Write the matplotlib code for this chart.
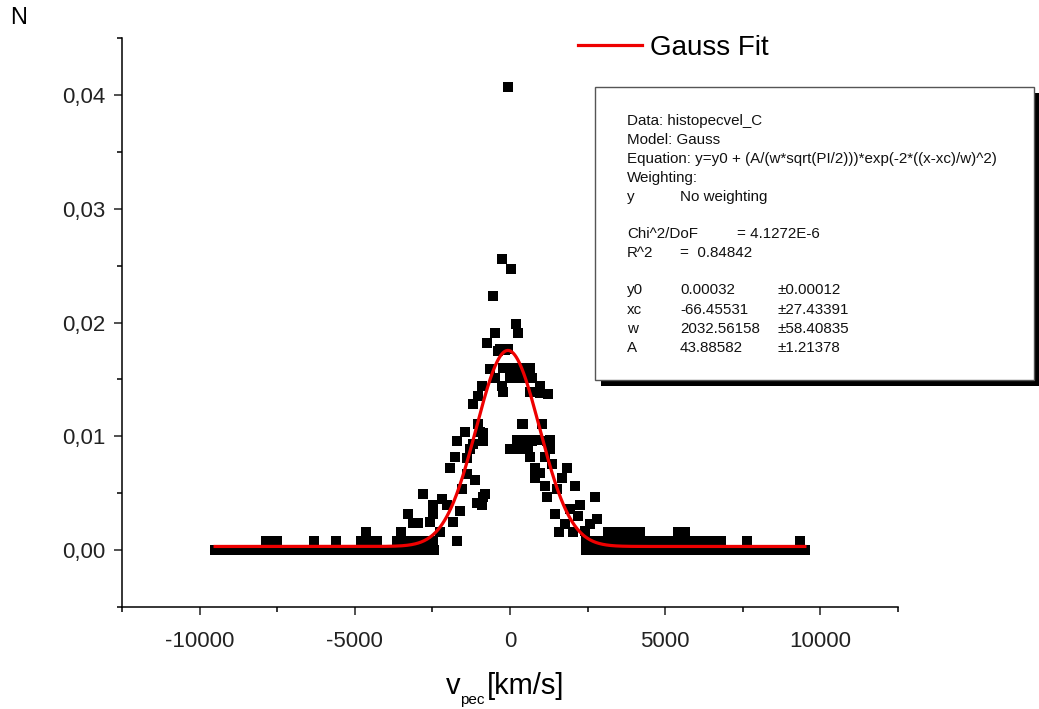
import numpy as np
import matplotlib
matplotlib.use('Agg')
import matplotlib.pyplot as plt
from matplotlib.patches import Rectangle
from matplotlib.ticker import MultipleLocator, FuncFormatter

plt.rcParams['font.family'] = ['Liberation Sans', 'DejaVu Sans']

# Histogram of peculiar velocities (km/s) and normalized counts N
# empty bins (N = 0)
v_zero = [-9500, -9350, -9200, -9050, -8900, -8750, -8600, -8450, -8300, -8150,
          -8000, -7850, -7700, -7550, -7400, -7250, -7100, -6950, -6800, -6650,
          -6500, -6350, -6200, -6050, -5900, -5750, -5600, -5450, -5300, -5150,
          -5000, -4850, -4700, -4550, -4400, -4250, -4100, -3950, -3800, -3650,
          -3500, -3350, -3200, -3050, -2900, -2750, -2600, -2450,
          2450, 2600, 2750, 2900, 3050, 3200, 3350, 3500, 3650, 3800,
          3950, 4100, 4250, 4400, 4550, 4700, 4850, 5000, 5150, 5300,
          5450, 5600, 5750, 5900, 6050, 6200, 6350, 6500, 6650, 6800,
          6950, 7100, 7250, 7400, 7550, 7700, 7850, 8000, 8150, 8300,
          8450, 8600, 8750, 8900, 9050, 9200, 9350, 9500]

# bins holding a single object
n_single = 0.0008
v_single = [-7850, -7750, -7500, -6300, -5600, -4800, -4600, -4500, -4400, -4300,
            -3650, -3400, -3200, -3000, -2900, -2750, -2480, -1710,
            2450, 2600, 2750, 2900, 3050, 3200, 3350, 3500, 3650, 3800,
            3950, 4100, 4250, 4400, 4550, 4700, 4850, 5000, 5150, 5300,
            5450, 5600, 5750, 5900, 6050, 6200, 6350, 6500, 6650, 6800,
            7650, 9350]

# bins holding two objects
n_double = 0.0016
v_double = [-4650, -3500, -2260, 1580, 2020, 3150, 3300, 3450, 3600, 3750,
            3900, 4050, 4200, 5400, 5550, 5650]

# central part of the distribution
v_core = [-65, -258, 32, -548, 194, 258, -484, -742, -323, -161,
          -65, -387, -645, -226, -903, -258, -484, -1032, -1194, -1032,
          -968, -1452, -1710, -871, -1290, 645, 97, 161, 323, 968,
          1226, 0, 419, 484, 290, 700, 645, 968, -226, 419,
          387, 1032, 1290, 323, 387, 710, 226, 548, 871, 1194,
          0, 97, 581, 323, 1290, -871, -871, -903, 807, 807,
          968, 1130, 1355, 645, 1130, 1839, 1678, 1194, 1516, 2097,
          2742, 2258, 1935, 2194, 1774, 2420, 1452, 2581, 2807,
          -3130, -2480, -2580, -1840, -1610, -2030, -2480, -806, -1065, -1387,
          -1936, -1387, -1194, -3290, -2970, -2810, -1774, -2200, -1550, -1130]
n_core = [0.0407, 0.0256, 0.0247, 0.0223, 0.0199, 0.0191, 0.0191, 0.0182, 0.0177, 0.0176,
          0.0177, 0.0175, 0.0159, 0.0160, 0.0144, 0.0144, 0.0151, 0.0135, 0.0128, 0.0111,
          0.0104, 0.0104, 0.0096, 0.0096, 0.0089, 0.0160, 0.0160, 0.0160, 0.0160, 0.0144,
          0.0137, 0.0151, 0.0151, 0.0151, 0.0151, 0.0151, 0.0139, 0.0138, 0.0139, 0.0111,
          0.0111, 0.0111, 0.0097, 0.0096, 0.0096, 0.0096, 0.0097, 0.0097, 0.0097, 0.0096,
          0.0089, 0.0089, 0.0089, 0.0089, 0.0089, 0.0103, 0.0047, 0.0040, 0.0072, 0.0063,
          0.0068, 0.0056, 0.0076, 0.0082, 0.0082, 0.0072, 0.0063, 0.0047, 0.0054, 0.0056,
          0.0047, 0.0040, 0.0036, 0.0030, 0.0023, 0.0017, 0.0032, 0.0023, 0.0027,
          0.0024, 0.0032, 0.0025, 0.0025, 0.0034, 0.0040, 0.0040, 0.0049, 0.0041, 0.0067,
          0.0072, 0.0081, 0.0093, 0.0032, 0.0024, 0.0049, 0.0082, 0.0045, 0.0054, 0.0062]

# Gauss fit parameters (from the fit report)
y0, xc, w, A = 0.00032, -66.45531, 2032.56158, 43.88582
fit_range = (-9500, 9500)

# Set up figure
####################################################################################################################
W, H = 1039, 709
fig = plt.figure(figsize=(W / 100, H / 100), dpi=100)
ax = fig.add_axes([122 / W, 1 - 607 / H, (898 - 122) / W, (607 - 38) / H])

mk = dict(linestyle='none', marker='s', markersize=6.7, color='black', markeredgewidth=0)
ax.plot(v_zero, [0.0] * len(v_zero), **mk)
ax.plot(v_single, [n_single] * len(v_single), **mk)
ax.plot(v_double, [n_double] * len(v_double), **mk)
ax.plot(v_core, n_core, **mk)

xf = np.linspace(fit_range[0], fit_range[1], 800)
yf = y0 + (A / (w * np.sqrt(np.pi / 2))) * np.exp(-2 * ((xf - xc) / w) ** 2)
ax.plot(xf, yf, color='#ee0000', lw=2.3, label='Gauss Fit', zorder=5)

# Axes styling
ax.set_xlim(-12500, 12500)
ax.set_ylim(-0.005, 0.045)
ax.xaxis.set_major_locator(MultipleLocator(5000))
ax.xaxis.set_minor_locator(MultipleLocator(2500))
ax.yaxis.set_major_locator(MultipleLocator(0.01))
ax.yaxis.set_minor_locator(MultipleLocator(0.005))
ax.yaxis.set_major_formatter(FuncFormatter(lambda v, p: f'{v:.2f}'.replace('.', ',')))
ax.xaxis.set_major_formatter(FuncFormatter(lambda v, p: f'{v:.0f}'))
for s in ['top', 'right']:
    ax.spines[s].set_visible(False)
for s in ['left', 'bottom']:
    ax.spines[s].set_linewidth(1.1)
ax.tick_params(which='major', direction='out', length=6, width=1.1, labelsize=16, pad=6, colors='#222222')
ax.tick_params(which='minor', direction='out', length=3.5, width=1.1)
ax.tick_params(axis='x', pad=11)

# axis labels: v_pec with a small, low subscript
fig.text(446 / W, 1 - 694 / H, 'v', fontsize=21, va='baseline', ha='left')
fig.text(460 / W, 1 - 704 / H, 'pec', fontsize=11, va='baseline', ha='left')
fig.text(487 / W, 1 - 694 / H, '[km/s]', fontsize=21, va='baseline', ha='left')
fig.text(10 / W, 1 - 18 / H, 'N', fontsize=17, va='center', ha='left')

ax.legend(loc='center left', bbox_to_anchor=(553 / W, 1 - 48 / H), bbox_transform=fig.transFigure,
          frameon=False, fontsize=20, handlelength=2.3, handletextpad=0.3)

# Fit report box with shadow
####################################################################################################################
bx0, by0, bx1, by1 = 595, 87, 1034, 380
fig.patches.append(Rectangle(((bx0 + 6) / W, 1 - (by1 + 6) / H), (bx1 - bx0) / W, (by1 - by0) / H,
                             transform=fig.transFigure, facecolor='black', edgecolor='none', zorder=10))
fig.patches.append(Rectangle((bx0 / W, 1 - by1 / H), (bx1 - bx0) / W, (by1 - by0) / H,
                             transform=fig.transFigure, facecolor='white', edgecolor='#555555', lw=1, zorder=11))

report = [
    (121, [(627, 'Data: histopecvel_C')]),
    (140, [(627, 'Model: Gauss')]),
    (159, [(627, 'Equation: y=y0 + (A/(w*sqrt(PI/2)))*exp(-2*((x-xc)/w)^2)')]),
    (178, [(627, 'Weighting:')]),
    (197, [(627, 'y'), (680, 'No weighting')]),
    (234, [(627, 'Chi^2/DoF'), (737, '= 4.1272E-6')]),
    (253, [(627, 'R^2'), (680, '=  0.84842')]),
    (290, [(627, 'y0'), (680, '0.00032'), (778, '\u00b10.00012')]),
    (310, [(627, 'xc'), (680, '-66.45531'), (778, '\u00b127.43391')]),
    (329, [(627, 'w'), (680, '2032.56158'), (778, '\u00b158.40835')]),
    (348, [(627, 'A'), (680, '43.88582'), (778, '\u00b11.21378')]),
]
for py, items in report:
    for px, txt in items:
        fig.text(px / W, 1 - py / H, txt, fontsize=10.9, va='center', ha='left', color='#111111', zorder=12)

fig.savefig('out.png', dpi=100)
